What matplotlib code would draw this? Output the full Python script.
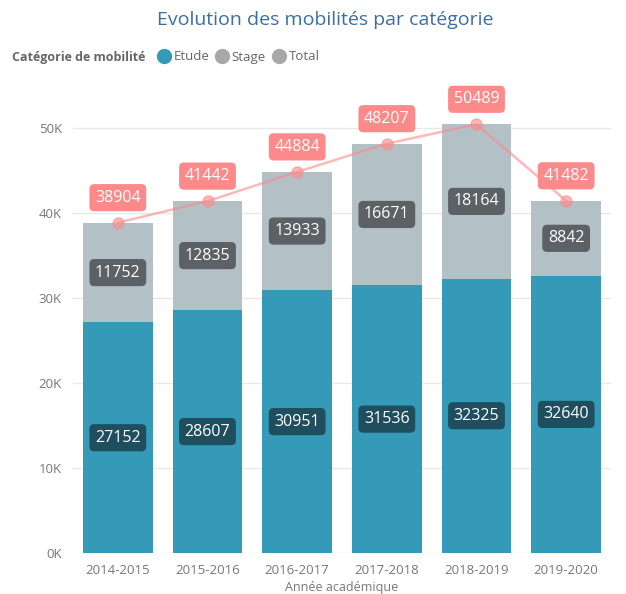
import numpy as np
import matplotlib.pyplot as plt
from matplotlib.lines import Line2D

# données
annees = ["2014-2015", "2015-2016", "2016-2017", "2017-2018", "2018-2019", "2019-2020"]
etude = [27152, 28607, 30951, 31536, 32325, 32640]
stage = [11752, 12835, 13933, 16671, 18164, 8842]
total = [38904, 41442, 44884, 48207, 50489, 41482]

C_ETUDE = "#3599B8"
C_STAGE = "#B3C0C6"
C_TOTAL = "#FD8A8A"
C_GRIS = "#777777"

plt.rcParams['font.family'] = ['Open Sans', 'DejaVu Sans']

fig = plt.figure(figsize=(6.26, 5.94), dpi=100)
ax = fig.add_axes([73 / 626, 41 / 594, 538 / 626, 467 / 594])

x = np.arange(len(annees))
ax.bar(x, etude, width=0.78, color=C_ETUDE, zorder=2)
ax.bar(x, stage, width=0.78, bottom=etude, color=C_STAGE, zorder=2)
ax.plot(x, total, color=C_TOTAL, alpha=0.6, lw=1.8, marker="o", ms=8, zorder=3)

boite = "round,pad=0.35,rounding_size=0.3"
for i in range(len(annees)):
    ax.text(x[i], etude[i] / 2, str(etude[i]), ha="center", va="center", color="white",
            fontsize=11.5, zorder=4, bbox=dict(boxstyle=boite, fc="#1F4E5F", ec="none"))
    ax.text(x[i], etude[i] + stage[i] / 2, str(stage[i]), ha="center", va="center", color="white",
            fontsize=11.5, zorder=4, bbox=dict(boxstyle=boite, fc="#5B6165", ec="none"))
    ax.annotate(str(total[i]), (x[i], total[i]), xytext=(0, 18), textcoords="offset points",
                ha="center", va="center", color="white", fontsize=11.5, zorder=5,
                bbox=dict(boxstyle=boite, fc=C_TOTAL, ec="none"))

ax.set_xlim(-0.5, len(annees) - 0.5)
ax.set_ylim(0, 55000)
ax.set_yticks([0, 10000, 20000, 30000, 40000, 50000])
ax.set_yticklabels(["0K", "10K", "20K", "30K", "40K", "50K"])
ax.set_xticks(x)
ax.set_xticklabels(annees)
ax.tick_params(colors=C_GRIS, labelsize=9.5, length=0, pad=8)
ax.grid(axis="y", color="#E8E8E8", lw=1, zorder=0)
for s in ax.spines.values():
    s.set_visible(False)
ax.set_xlabel("Année académique", color=C_GRIS, fontsize=9, labelpad=3)

fig.text(325 / 626, 1 - 20 / 594, "Evolution des mobilités par catégorie", ha="center", va="center",
         color="#3A6EA5", fontsize=14)

poignees = [Line2D([], [], marker="o", ls="none", color=c, ms=10) for c in (C_ETUDE, "#A8A8A8", "#A8A8A8")]
fig.text(12 / 626, 1 - 57 / 594, "Catégorie de mobilité", ha="left", va="center",
         color="#666666", fontsize=9, fontweight="bold")
fig.legend(poignees, ["Etude", "Stage", "Total"], loc="center left", bbox_to_anchor=(151 / 626, 1 - 57 / 594),
           ncol=3, frameon=False, handletextpad=0.1, columnspacing=0.4, fontsize=9.5,
           labelcolor="#666666", borderaxespad=0, handlelength=1.2)

fig.savefig("out.png", dpi=100, facecolor="white")
